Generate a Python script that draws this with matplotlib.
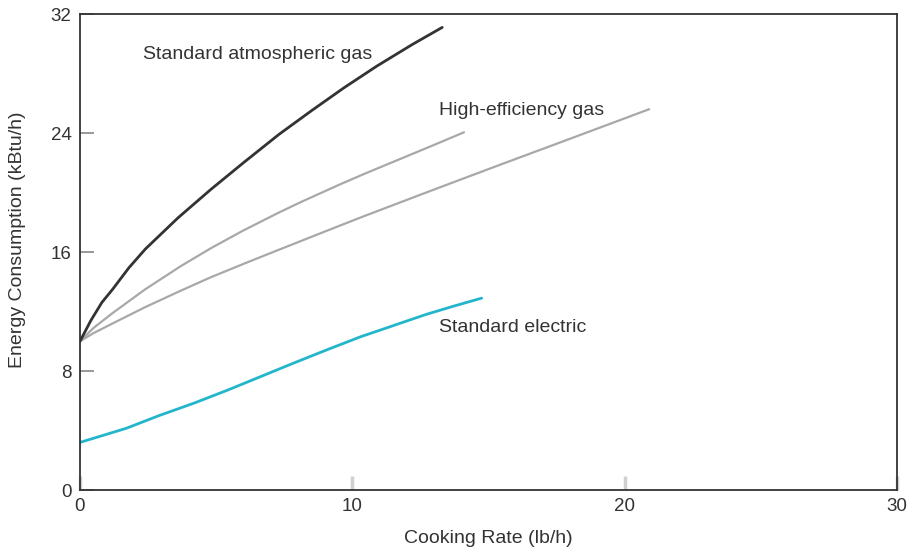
##COOKING ENERGY CHART##

import matplotlib
matplotlib.use("Agg")
import matplotlib.pyplot as plt

##DATA

atmos_x = [0, 0.4, 0.8, 1.2, 1.8, 2.4, 3.6, 4.8, 6.0, 7.3, 8.5, 9.7, 10.9, 12.2, 13.3]
atmos_y = [10, 11.4, 12.6, 13.5, 14.95, 16.2, 18.3, 20.2, 22.0, 23.9, 25.5, 27.05, 28.5, 29.95, 31.1]

higheff1_x = [0, 0.5, 1.2, 2.4, 3.7, 4.8, 6.0, 7.3, 8.1, 9.55, 10.5, 13.0, 14.1]
higheff1_y = [10, 10.9, 11.9, 13.5, 15.05, 16.25, 17.45, 18.65, 19.35, 20.55, 21.3, 23.2, 24.05]

higheff2_x = [0, 0.5, 1.2, 2.4, 3.7, 4.8, 6.0, 7.3, 8.1, 9.55, 10.5, 13.0, 15.4, 17.9, 20.9]
higheff2_y = [10, 10.55, 11.2, 12.3, 13.4, 14.3, 15.2, 16.15, 16.73, 17.78, 18.46, 20.2, 21.85, 23.55, 25.6]

elec_x = [0, 1.7, 2.9, 4.2, 5.4, 6.6, 7.8, 9.1, 10.3, 11.5, 12.7, 13.7, 14.75]
elec_y = [3.2, 4.15, 5.0, 5.85, 6.7, 7.6, 8.5, 9.45, 10.3, 11.05, 11.8, 12.35, 12.9]

x_ticks = [0, 10, 20, 30]
y_ticks = [0, 8, 16, 24, 32]

##PLOT

plt.rcParams['font.family'] = ['Liberation Sans', 'DejaVu Sans']
txt = '#333333'

fig = plt.figure(figsize=(9.08, 5.52), dpi=100)
ax = fig.add_axes([0.0881, 0.1123, 0.8998, 0.8623])

ax.plot(higheff1_x, higheff1_y, color='#a8a8a8', lw=1.6, solid_capstyle='round', solid_joinstyle='round')
ax.plot(higheff2_x, higheff2_y, color='#a8a8a8', lw=1.6, solid_capstyle='round', solid_joinstyle='round')
ax.plot(atmos_x, atmos_y, color='#333333', lw=2.0, solid_capstyle='round', solid_joinstyle='round')
ax.plot(elec_x, elec_y, color='#22b5cc', lw=2.0, solid_capstyle='round', solid_joinstyle='round')

ax.text(2.3, 29.3, 'Standard atmospheric gas', fontsize=14, color=txt, va='center')
ax.text(13.2, 25.5, 'High-efficiency gas', fontsize=14, color=txt, va='center')
ax.text(13.2, 10.9, 'Standard electric', fontsize=14, color=txt, va='center')

ax.set_xlim(0, 30)
ax.set_ylim(0, 32)
ax.set_xticks(x_ticks)
ax.set_yticks(y_ticks)
ax.tick_params(axis='y', direction='in', length=10, width=1.2, color='#888888',
               labelsize=13.5, labelcolor=txt, pad=6)
ax.tick_params(axis='x', direction='in', length=10, width=2.5, color='#d0d0d0',
               labelsize=13.5, labelcolor=txt, pad=6)

for s in ax.spines.values():
    s.set_color('#333333')
    s.set_linewidth(1.3)

ax.set_xlabel('Cooking Rate (lb/h)', fontsize=14, color=txt)
ax.set_ylabel('Energy Consumption (kBtu/h)', fontsize=14, color=txt)
ax.xaxis.set_label_coords(0.5, -0.085)
ax.yaxis.set_label_coords(-0.066, 0.525)

fig.savefig('out.png', dpi=100)
